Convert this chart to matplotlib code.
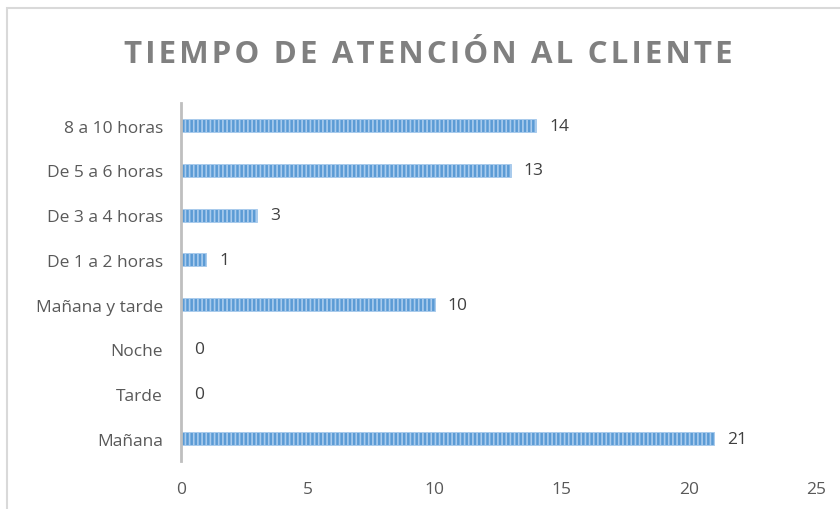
import matplotlib
matplotlib.use("Agg")
import matplotlib.pyplot as plt
from matplotlib.patches import Rectangle

# datos del grafico (de abajo hacia arriba)
categorias = ["Mañana", "Tarde", "Noche", "Mañana y tarde",
              "De 1 a 2 horas", "De 3 a 4 horas", "De 5 a 6 horas", "8 a 10 horas"]
valores = [21, 0, 0, 10, 1, 3, 13, 14]
ticks_x = [0, 5, 10, 15, 20, 25]

plt.rcParams['font.family'] = ['Open Sans', 'DejaVu Sans']
plt.rcParams['hatch.linewidth'] = 1.2

fig = plt.figure(figsize=(8.4, 5.1), dpi=100)
ax = fig.add_axes([0.2155, 0.094, 0.7555, 0.7015])

# marco exterior del grafico
fig.patches.append(Rectangle((7/840, -0.1), 1.2, 1 - 9/510 + 0.1, transform=fig.transFigure,
                             facecolor='none', edgecolor='#d9d9d9', linewidth=1.5))

pos = range(len(categorias))
ax.barh(pos, valores, height=0.29, color='#5b9bd5', edgecolor='#a9cbed',
        hatch='||||', linewidth=0.6)

for p, v in zip(pos, valores):
    ax.text(v + 0.5, p, str(v), va='center', ha='left', fontsize=12.5, color='#404040')

ax.set_xlim(0, 25)
ax.set_ylim(-0.5, len(categorias) - 0.5)
ax.set_xticks(ticks_x)
ax.set_yticks(list(pos))
ax.set_yticklabels(categorias)
ax.tick_params(axis='both', length=0, labelsize=12.5, colors='#595959')
ax.tick_params(axis='x', pad=14)
ax.tick_params(axis='y', pad=13)

for s in ['top', 'right', 'bottom']:
    ax.spines[s].set_visible(False)
ax.spines['left'].set_color('#bfbfbf')
ax.spines['left'].set_linewidth(2)

titulo = "\u200a".join("TIEMPO DE ATENCIÓN AL CLIENTE")
fig.text(0.51, 1 - 55/510, titulo, ha='center', va='center', fontsize=22.5,
         fontweight='bold', color='#808080')

fig.savefig("out.png", dpi=100)
